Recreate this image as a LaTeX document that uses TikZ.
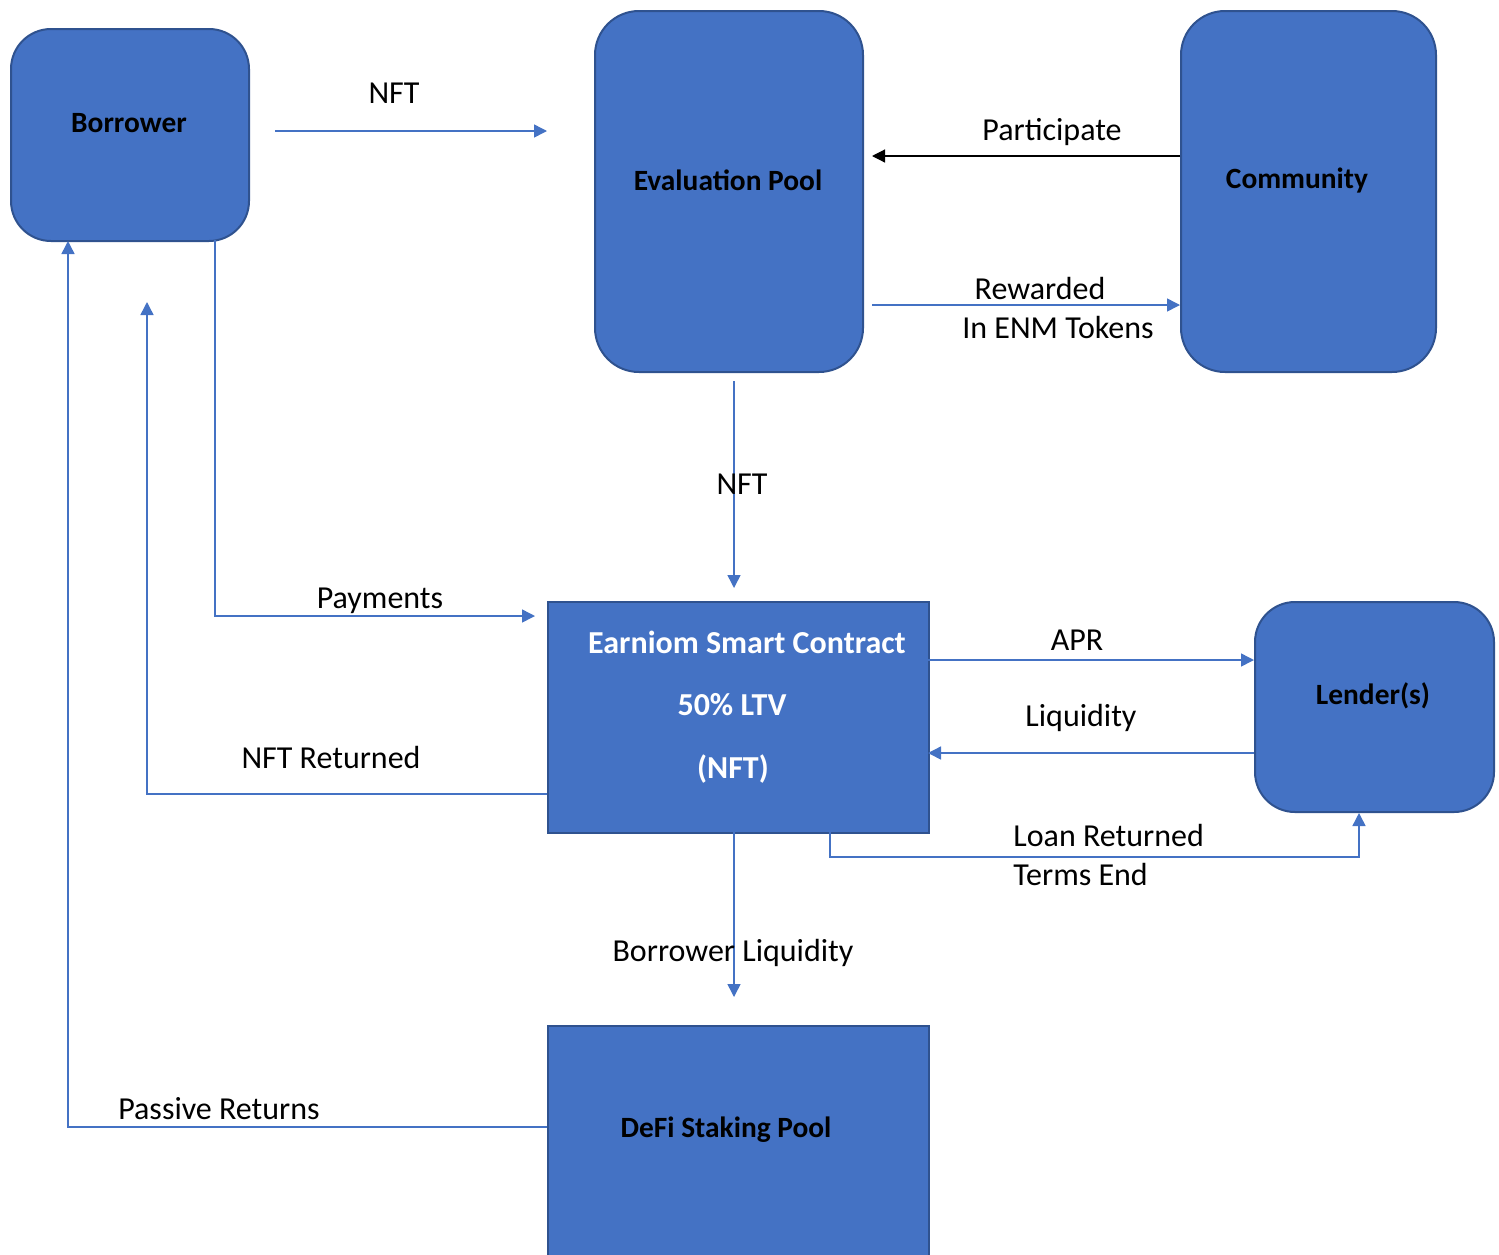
\documentclass[tikz,border=0pt]{standalone}
\usepackage{fontspec}
\setmainfont{Carlito}
\usetikzlibrary{arrows.meta}
\definecolor{boxfill}{HTML}{4472C4}
\definecolor{boxline}{HTML}{2F528F}
\definecolor{conn}{HTML}{4472C4}
\begin{document}
\begin{tikzpicture}[x=0.5pt,y=-0.5pt,
  rbox/.style={draw=boxline,fill=boxfill,line width=1pt,rounded corners=20pt,inner sep=0pt,anchor=north west},
  sbox/.style={draw=boxline,fill=boxfill,line width=1.2pt,inner sep=0pt,anchor=north west},
  btxt/.style={font=\fontsize{14.7}{17}\selectfont\bfseries,inner sep=0pt},
  wtxt/.style={font=\fontsize{16}{18}\selectfont\bfseries,text=white,inner sep=0pt},
  lbl/.style={font=\fontsize{16}{18}\selectfont,inner sep=0pt},
  conn/.style={draw=conn,line width=0.75pt,-{Triangle[length=6.5pt,width=6.5pt]}},
  connk/.style={draw=black,line width=0.6pt,-{Triangle[length=6.5pt,width=6.5pt]}},
]
\useasboundingbox (0,0) rectangle (1499,1254);
% boxes
\node[rbox,minimum width=119pt,minimum height=106pt] (borrower) at (10,28) {};
\node[rbox,minimum width=134pt,minimum height=180.5pt,rounded corners=22pt] (evalpool) at (594,10) {};
\node[rbox,minimum width=127.5pt,minimum height=180.5pt,rounded corners=22pt] (community) at (1180,10) {};
\node[sbox,minimum width=190.5pt,minimum height=115.5pt] (contract) at (547,601) {};
\node[rbox,minimum width=119.5pt,minimum height=105pt] (lender) at (1254,601) {};
\node[sbox,minimum width=190.5pt,minimum height=130pt] (defi) at (547,1025) {};
% box texts
\node[btxt] (tborrower) at (129,123) {Borrower};
\node[btxt] (teval) at (728,180) {Evaluation Pool};
\node[btxt] (tcomm) at (1297,180) {Community};
\node[wtxt] (tc1) at (747,642) {Earniom Smart Contract};
\node[wtxt] (tc2) at (732,705) {50\% LTV};
\node[wtxt] (tc3) at (733,769) {(NFT)};
\node[btxt] (tlender) at (1373,696) {Lender(s)};
\node[btxt] (tdefi) at (726,1130) {DeFi Staking Pool};
% connector end points
\coordinate (a1s) at (275,131); \coordinate (a1e) at (547,131);
\coordinate (a2s) at (1180,156); \coordinate (a2e) at (872,156);
\coordinate (a3s) at (872,305); \coordinate (a3e) at (1180,305);
\coordinate (a4s) at (734,381); \coordinate (a4e) at (734,588);
\coordinate (a5s) at (215,240); \coordinate (a5e) at (535,616);
\coordinate (a6s) at (547,794); \coordinate (a6e) at (147,302);
\coordinate (a7s) at (547,1127); \coordinate (a7e) at (68,241);
\coordinate (a8s) at (928,660); \coordinate (a8e) at (1254,660);
\coordinate (a9s) at (1254,753); \coordinate (a9e) at (928,753);
\coordinate (a10s) at (830,832); \coordinate (a10m) at (830,857); \coordinate (a10e) at (1359,813);
\coordinate (a11s) at (734,832); \coordinate (a11e) at (734,997);
% connectors
\draw[conn] (a1s) -- (a1e);
\draw[connk] (a2s) -- (a2e);
\draw[conn] (a3s) -- (a3e);
\draw[conn] (a4s) -- (a4e);
\draw[conn] (a5s) |- (a5e);
\draw[conn] (a6s) -| (a6e);
\draw[conn] (a7s) -| (a7e);
\draw[conn] (a8s) -- (a8e);
\draw[conn] (a9s) -- (a9e);
\draw[conn] (a10s) -- (a10m) -| (a10e);
\draw[conn] (a11s) -- (a11e);
% labels
\node[lbl] (l1) at (394,93) {NFT};
\node[lbl] (l2) at (1052,132) {Participate};
\node[lbl] (l3a) at (1040,288) {Rewarded};
\node[lbl] (l3b) at (1058,327) {In ENM Tokens};
\node[lbl] (l4) at (742,484) {NFT};
\node[lbl] (l5) at (380,601) {Payments};
\node[lbl] (l6) at (331,757) {NFT Returned};
\node[lbl] (l7) at (219,1109) {Passive Returns};
\node[lbl] (l8) at (1077,640) {APR};
\node[lbl] (l9) at (1081,718) {Liquidity};
\node[lbl,anchor=west] (l10a) at (1013,835) {Loan Returned};
\node[lbl,anchor=west] (l10b) at (1013,874) {Terms End};
\node[lbl] (l11) at (733,953) {Borrower Liquidity};
\end{tikzpicture}
\end{document}
